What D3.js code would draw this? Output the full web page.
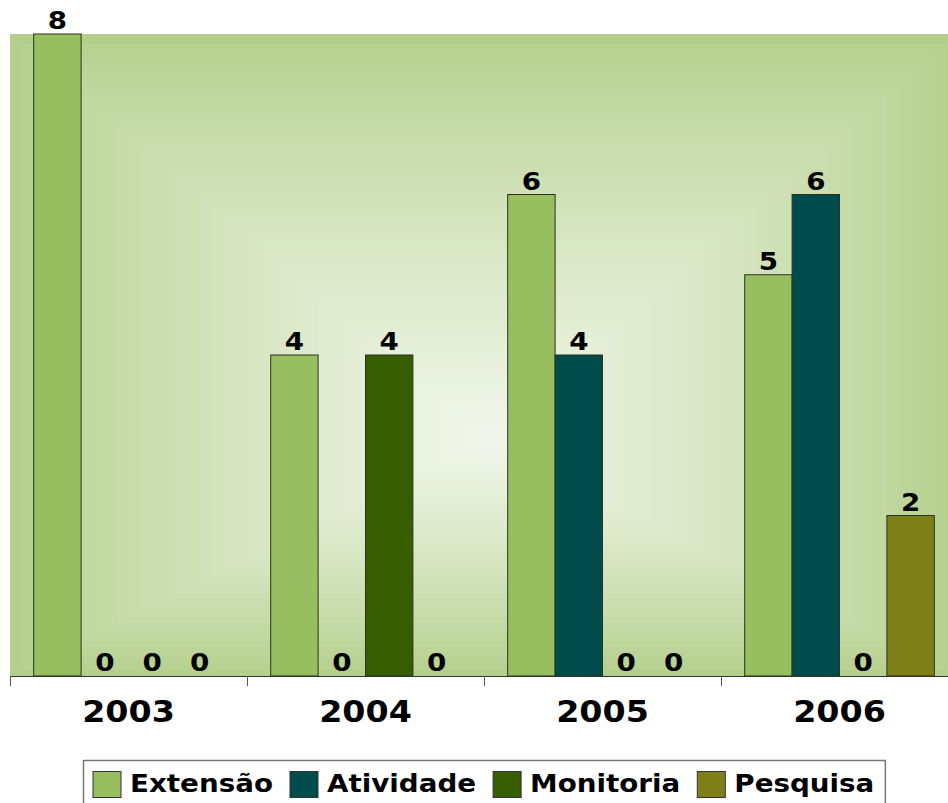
<!DOCTYPE html>
<html>
<head>
<meta charset="utf-8">
<script src="https://cdn.jsdelivr.net/npm/d3@7"></script>
<style>
  body { margin: 0; background: #fff; }
  text { font-family: "DejaVu Sans", sans-serif; font-weight: bold; }
</style>
</head>
<body>
<div id="chart"></div>
<script>
var years = ["2003", "2004", "2005", "2006"];
var seriesNames = ["Extensão", "Atividade", "Monitoria", "Pesquisa"];
var extensao  = [8, 4, 6, 5];
var atividade = [0, 0, 4, 6];
var monitoria = [0, 4, 0, 0];
var pesquisa  = [0, 0, 0, 2];
var seriesColors = ["#98bf5f", "#004c4c", "#365e00", "#7f7f1a"];

var width = 948, height = 803;
var plot = { left: 10, right: 958, top: 34, bottom: 676 };
var stretch = 1.11; // text in the original is a bit wider than DejaVu Bold

var values = [extensao, atividade, monitoria, pesquisa];
var data = years.map(function(y, i) {
  return { year: y, items: seriesNames.map(function(s, j) {
    return { name: s, value: values[j][i], color: seriesColors[j] };
  }) };
});

var svg = d3.select("#chart").append("svg")
  .attr("width", width)
  .attr("height", height);

// Define scales
var x0 = d3.scaleBand().domain(years).range([plot.left, plot.right]);
var x1 = d3.scaleBand().domain(seriesNames)
  .range([x0.bandwidth() * 0.1, x0.bandwidth() * 0.9]);
var y = d3.scaleLinear().domain([0, 8]).range([plot.bottom, plot.top]);

// Rectangular gradient background, built from nested rects
var cx = 485, cy = 440, steps = 40;
var edge = d3.rgb("#b3cf8b"), center = d3.rgb("#f2f7ec");
var bg = svg.append("g");
for (var i = 0; i < steps; i++) {
  var t = i / steps;
  var l = plot.left + (cx - plot.left) * t,
      r = plot.right - (plot.right - cx) * t,
      tp = plot.top + (cy - plot.top) * t,
      bt = plot.bottom - (plot.bottom - cy) * t;
  bg.append("rect")
    .attr("x", l).attr("y", tp)
    .attr("width", Math.max(r - l, 1)).attr("height", Math.max(bt - tp, 1))
    .attr("fill", d3.interpolateRgb(edge, center)(Math.pow(t, 0.8)));
}

// wide text helper
function place(sel, fx, fy) {
  sel.attr("transform", function(d) {
    return "translate(" + fx(d) + "," + fy(d) + ") scale(" + stretch + ",1)";
  });
}

// Bars
var groups = svg.selectAll(".year")
  .data(data)
  .enter().append("g")
  .attr("class", "year")
  .attr("transform", function(d) { return "translate(" + x0(d.year) + ",0)"; });

groups.selectAll("rect")
  .data(function(d) { return d.items; })
  .enter().append("rect")
  .attr("x", function(d) { return x1(d.name); })
  .attr("y", function(d) { return y(d.value); })
  .attr("width", x1.bandwidth())
  .attr("height", function(d) { return y(0) - y(d.value); })
  .attr("fill", function(d) { return d.color; })
  .attr("stroke", "#2b3320")
  .attr("stroke-width", 1);

groups.selectAll("text")
  .data(function(d) { return d.items; })
  .enter().append("text")
  .attr("text-anchor", "middle")
  .style("font-size", "25px")
  .text(function(d) { return d.value; })
  .call(place,
    function(d) { return x1(d.name) + x1.bandwidth() / 2; },
    function(d) { return y(d.value) - 5; });

// Axis
var axis = svg.append("g")
  .attr("transform", "translate(0," + plot.bottom + ")");
axis.append("line")
  .attr("x1", plot.left).attr("x2", plot.right)
  .attr("y1", 0.5).attr("y2", 0.5)
  .attr("stroke", "#333").attr("stroke-width", 1);
axis.selectAll(".tick")
  .data(years)
  .enter().append("line")
  .attr("x1", function(d) { return Math.round(x0(d)) + 0.5; })
  .attr("x2", function(d) { return Math.round(x0(d)) + 0.5; })
  .attr("y1", 0).attr("y2", 10)
  .attr("stroke", "#555");
axis.selectAll(".label")
  .data(years)
  .enter().append("text")
  .attr("text-anchor", "middle")
  .style("font-size", "30px")
  .text(function(d) { return d; })
  .call(place,
    function(d) { return x0(d) + x0.bandwidth() / 2; },
    function() { return 46; });

// Legend
var legend = svg.append("g");
var box = legend.append("rect")
  .attr("fill", "#fff").attr("stroke", "#777").attr("stroke-width", 1.5);
var lx = 93, gap = 17;
seriesNames.forEach(function(s, j) {
  legend.append("rect")
    .attr("x", lx).attr("y", 771.5)
    .attr("width", 28).attr("height", 26)
    .attr("fill", seriesColors[j])
    .attr("stroke", "#333");
  var txt = legend.append("text")
    .datum(s)
    .style("font-size", "25px")
    .text(s)
    .call(place, function() { return lx + 37; }, function() { return 792; });
  lx += 37 + txt.node().getComputedTextLength() * stretch + gap;
});
box.attr("x", 83.5).attr("y", 760.5).attr("width", lx - gap + 11 - 83.5).attr("height", 60);
</script>
</body>
</html>
